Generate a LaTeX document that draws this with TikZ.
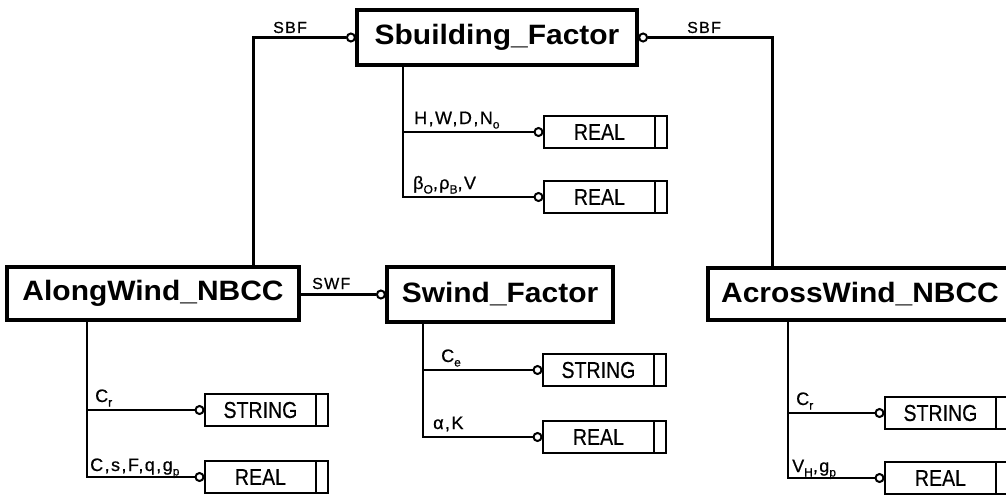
\documentclass[tikz,border=0pt]{standalone}
\usepackage{fontspec}
\setmainfont{Liberation Sans}
\newfontfamily\boxfont{Liberation Sans}[FakeStretch=1.07]
\newfontfamily\typefont{Liberation Sans}[FakeStretch=0.85,FakeBold=0.4]
\newfontfamily\labfont{Liberation Sans}[LetterSpace=8,FakeBold=0.6]
\usetikzlibrary{calc}
\newcommand\tbx[1]{\makebox[111pt]{#1}\hspace*{12pt}}
\newcommand\sbs[1]{\raisebox{-0.25em}{\fontsize{12}{12}\selectfont #1}}
\begin{document}
\begin{tikzpicture}[x=1pt,y=-1pt,
 mainbox/.style={draw, line width=3.2pt, inner sep=0pt, font=\boxfont\bfseries\fontsize{28}{30}\selectfont},
 typebox/.style={draw, line width=1.9pt, inner sep=0pt, minimum width=123pt, minimum height=32pt, anchor=west,
   font=\typefont\fontsize{23}{25}\selectfont,
   path picture={\draw[line width=1.9pt] ([xshift=-12pt]path picture bounding box.north east) -- ([xshift=-12pt]path picture bounding box.south east);}},
 port/.style={circle, draw, line width=2pt, fill=white, inner sep=0pt, minimum size=8pt},
 conn/.style={line width=3pt},
 trunk/.style={line width=2.6pt},
 branch/.style={line width=2.2pt},
 lab/.style={font=\labfont\fontsize{16}{17}\selectfont, inner sep=0pt, anchor=base west},
 blab/.style={font=\labfont\fontsize{18}{19}\selectfont, inner sep=0pt, anchor=base west},
]
\useasboundingbox (0,0) rectangle (1006,495);
\clip (0,0) rectangle (1006,495);

% main boxes
\node[mainbox, minimum width=280pt, minimum height=55pt] (sbf) at (497,37.5) {Sbuilding\_Factor};
\node[mainbox, minimum width=292pt, minimum height=53pt] (along) at (153,293.5) {AlongWind\_NBCC};
\node[mainbox, minimum width=226pt, minimum height=55pt] (swind) at (500,294.5) {Swind\_Factor};
\node[mainbox, minimum width=304pt, minimum height=52pt] (across) at (860,294) {AcrossWind\_NBCC};

% ports of main connectors
\node[port] (pl) at ([xshift=-4.5pt]sbf.west) {};
\node[port] (pr) at ([xshift=4.5pt]sbf.east) {};
\node[port] (pw) at ([xshift=-4.5pt]swind.west) {};

\coordinate (kl) at (253,0);
\coordinate (kr) at (772,0);
\draw[conn] (pl.west) -| (kl |- along.north);
\draw[conn] (pr.east) -| (kr |- across.north);
\draw[conn] (along.east |- pw) -- (pw.west);

\node[lab] (sbfl) at (273,33) {SBF};
\node[lab] (sbfr) at (687,33) {SBF};
\node[lab] (swfl) at (312,289) {SWF};

% type boxes
\node[typebox] (r1) at (543,132) {\tbx{REAL}};
\node[typebox] (r2) at (543,197) {\tbx{REAL}};
\node[typebox] (s3) at (542,370) {\tbx{STRING}};
\node[typebox] (r4) at (542,437) {\tbx{REAL}};
\node[typebox] (s5) at (204,410) {\tbx{STRING}};
\node[typebox] (r6) at (204,477) {\tbx{REAL}};
\node[typebox] (s7) at (884,413) {\tbx{STRING}};
\node[typebox] (r8) at (884,478) {\tbx{REAL}};

\foreach \b in {r1,r2,s3,r4,s5,r6,s7,r8}
  \node[port] (q\b) at ([xshift=-4.5pt]\b.west) {};

% trunks
\coordinate (t1) at (403,0);
\coordinate (t2) at (423,0);
\coordinate (t3) at (87,0);
\coordinate (t4) at (788,0);

\draw[trunk] (t1 |- sbf.south) -- (t1 |- qr2) -- (qr2.west);
\draw[branch] (t1 |- qr1) -- (qr1.west);
\draw[trunk] (t2 |- swind.south) -- (t2 |- qr4) -- (qr4.west);
\draw[branch] (t2 |- qs3) -- (qs3.west);
\draw[trunk] (t3 |- along.south) -- (t3 |- qr6) -- (qr6.west);
\draw[branch] (t3 |- qs5) -- (qs5.west);
\draw[trunk] (t4 |- across.south) -- (t4 |- qr8) -- (qr8.west);
\draw[branch] (t4 |- qs7) -- (qs7.west);

% branch labels
\node[blab] (b1) at ($(t1 |- qr1)+(11,-8)$) {H,W,D,N\sbs{o}};
\node[blab] (b2) at ($(t1 |- qr2)+(10,-8)$) {β\sbs{O},ρ\sbs{B},V};
\node[blab] (b3) at ($(t2 |- qs3)+(18,-8)$) {C\sbs{e}};
\node[blab] (b4) at ($(t2 |- qr4)+(10,-8)$) {α,K};
\node[blab] (b5) at ($(t3 |- qs5)+(8,-8)$) {C\sbs{r}};
\node[blab] (b6) at ($(t3 |- qr6)+(3,-6)$) {C,s,F,q,g\sbs{p}};
\node[blab] (b7) at ($(t4 |- qs7)+(8,-8)$) {C\sbs{r}};
\node[blab] (b8) at ($(t4 |- qr8)+(4,-6)$) {V\sbs{H},g\sbs{p}};
\end{tikzpicture}
\end{document}
